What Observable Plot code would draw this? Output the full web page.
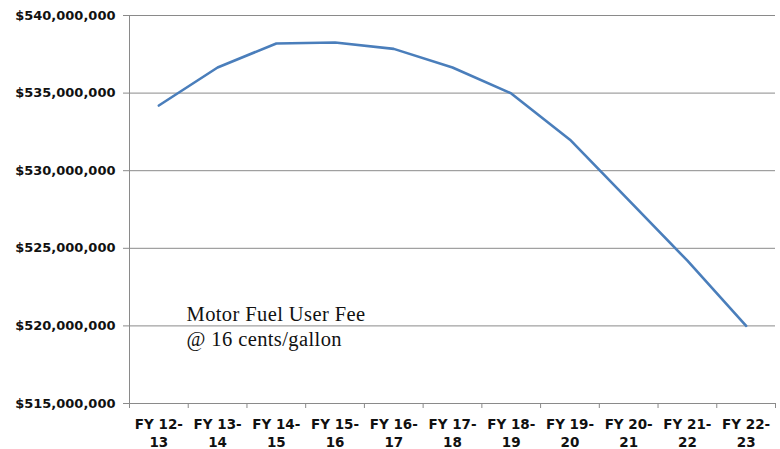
<!DOCTYPE html>
<html>
<head>
<meta charset="utf-8">
<script src="https://cdn.jsdelivr.net/npm/d3@7"></script>
<script src="https://cdn.jsdelivr.net/npm/@observablehq/plot@0.6"></script>
<style>
  html, body { margin: 0; padding: 0; background: #fff; }
  #chart svg { display: block; }
  .annot text { letter-spacing: 0.4px; }
</style>
</head>
<body>
<div id="chart"></div>
<script>
const categories = ["FY 12-\n13","FY 13-\n14","FY 14-\n15","FY 15-\n16","FY 16-\n17","FY 17-\n18","FY 18-\n19","FY 19-\n20","FY 20-\n21","FY 21-\n22","FY 22-\n23"];
const revenue = [534200000, 536650000, 538200000, 538260000, 537850000, 536650000, 534980000, 532000000, 528100000, 524200000, 520000000];
const yTicks = [515000000, 520000000, 525000000, 530000000, 535000000, 540000000];
const annotation = ["Motor Fuel User Fee\n@ 16 cents/gallon"];

const data = categories.map((c, i) => ({i, label: c, value: revenue[i]}));
const idx = categories.map((c, i) => i);
const bounds = d3.range(-0.5, categories.length, 1);

const lineColor = "#4a7ebb";
const gridColor = "#8a8a8a";
const font = "DejaVu Sans, Verdana, sans-serif";

const chart = Plot.plot({
  width: 780,
  height: 449,
  marginLeft: 129,
  marginRight: 5,
  marginTop: 15,
  marginBottom: 46,
  style: {fontFamily: font, fontSize: "13px", fontWeight: "bold", color: "#111", background: "#fff"},
  x: {type: "linear", domain: [-0.5, categories.length - 0.5]},
  y: {domain: [515000000, 540000000]},
  marks: [
    Plot.gridY(yTicks, {stroke: gridColor, strokeOpacity: 1, strokeWidth: 1}),
    Plot.ruleX([-0.5], {stroke: gridColor, strokeWidth: 1}),
    Plot.axisY({ticks: yTicks, tickFormat: d3.format("$,"), tickSize: 6, tickPadding: 8, stroke: gridColor, label: null, fontSize: 13, fontWeight: "bold", fill: "#111"}),
    Plot.axisX({ticks: bounds, tickFormat: () => "", tickSize: 5, stroke: gridColor, label: null}),
    Plot.axisX({ticks: idx, tickFormat: i => categories[i], tickSize: 0, tickPadding: 13, label: null, lineHeight: 1.32, fontSize: 13.5, fontWeight: "bold", fill: "#111"}),
    Plot.ruleY([515000000], {stroke: gridColor, strokeWidth: 1}),
    Plot.line(data, {x: "i", y: "value", stroke: lineColor, strokeWidth: 2.6, curve: "linear"}),
    Plot.text(annotation, {text: d => d, frameAnchor: "top-left", dx: 57, dy: 287, textAnchor: "start", lineAnchor: "top", lineHeight: 1.24, fontFamily: "Liberation Serif, Times New Roman, serif", fontSize: 20.5, fontWeight: "normal", fill: "#111", className: "annot"})
  ]
});
document.getElementById("chart").appendChild(chart);
</script>
</body>
</html>
